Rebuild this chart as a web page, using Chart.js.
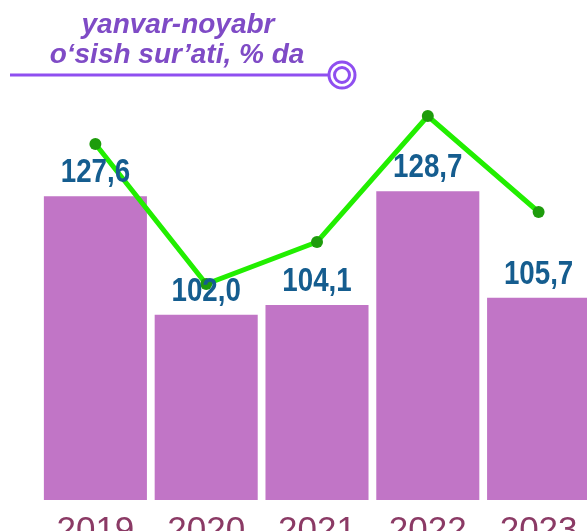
<!DOCTYPE html>
<html>
<head>
<meta charset="utf-8">
<script src="https://cdn.jsdelivr.net/npm/chart.js@4.4.0/dist/chart.umd.min.js"></script>
<style>
  html, body { margin: 0; padding: 0; background: #fff; overflow: hidden; }
  canvas { position: absolute; left: 0; top: 0; }
</style>
</head>
<body>
<canvas id="growthChart" width="600" height="562"></canvas>
<script>
const years = ['2019', '2020', '2021', '2022', '2023'];
const growthValues = [127.6, 102.0, 104.1, 128.7, 105.7];
// second series has no printed values, read off its own (hidden) scale
const lineValues = [89, 54, 64.5, 96, 72];
const titleLines = ['yanvar-noyabr', 'o‘sish sur’ati, % da'];

const ctx = document.getElementById('growthChart');

const headerPlugin = {
    id: 'header',
    afterDraw(chart) {
        const c = chart.ctx;
        c.save();
        c.fillStyle = '#7f4bc6';
        c.font = 'italic bold 28px "Liberation Sans", Arial, sans-serif';
        c.textAlign = 'center';
        c.textBaseline = 'alphabetic';
        c.fillText(titleLines[0], 178, 33);
        c.fillText(titleLines[1], 177, 63);

        c.strokeStyle = '#8f4ff0';
        c.lineWidth = 3;
        c.beginPath();
        c.moveTo(10, 75);
        c.lineTo(329, 75);
        c.stroke();
        c.beginPath();
        c.arc(342, 75, 13, 0, Math.PI * 2);
        c.stroke();
        c.beginPath();
        c.arc(342, 75, 7.5, 0, Math.PI * 2);
        c.stroke();
        c.restore();
    }
};

// labels in the picture use a condensed bold face, squeeze the regular one
const valueLabels = {
    id: 'valueLabels',
    afterDatasetsDraw(chart) {
        const c = chart.ctx;
        const meta = chart.getDatasetMeta(1);
        c.save();
        c.fillStyle = '#155d8f';
        c.font = 'bold 33px "Liberation Sans", Arial, sans-serif';
        c.textAlign = 'center';
        c.textBaseline = 'alphabetic';
        meta.data.forEach((bar, i) => {
            c.save();
            c.translate(bar.x, bar.y - 14);
            c.scale(0.84, 1);
            c.fillText(growthValues[i].toFixed(1).replace('.', ','), 0, 0);
            c.restore();
        });
        c.restore();
    }
};

const myChart = new Chart(ctx, {
    type: 'bar',
    data: {
        labels: years,
        datasets: [{
            type: 'line',
            data: lineValues,
            yAxisID: 'y2',
            order: 0,
            borderColor: '#22ee00',
            borderWidth: 5,
            pointRadius: 6,
            pointBackgroundColor: '#1e9c0c',
            pointBorderWidth: 0,
            tension: 0
        },
        {
            data: growthValues,
            yAxisID: 'y',
            order: 1,
            backgroundColor: '#c175c6',
            categoryPercentage: 1,
            barPercentage: 0.93
        }]
    },
    options: {
        responsive: false,
        animation: false,
        layout: {
            padding: { left: 40, right: 0, top: 100, bottom: 0 }
        },
        plugins: {
            legend: { display: false },
            tooltip: { enabled: false }
        },
        scales: {
            x: {
                grid: { display: false, drawTicks: false },
                border: { display: false },
                ticks: {
                    color: '#8b3a65',
                    padding: 10,
                    font: { family: '"Liberation Sans", Arial, sans-serif', size: 35 }
                }
            },
            y: {
                display: false,
                min: 62,
                max: 148.4
            },
            y2: {
                display: false,
                min: 0,
                max: 100
            }
        }
    },
    plugins: [headerPlugin, valueLabels]
});
</script>
</body>
</html>
